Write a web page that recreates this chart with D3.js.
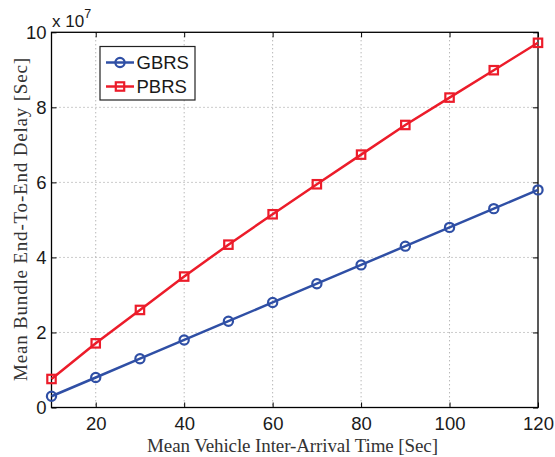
<!DOCTYPE html>
<html>
<head>
<meta charset="utf-8">
<script src="https://cdn.jsdelivr.net/npm/d3@7"></script>
<style>
  html, body { margin: 0; padding: 0; background: #fff; }
  svg { display: block; }
</style>
</head>
<body>
<svg id="chart" width="555" height="457"></svg>
<script>
// Mean vehicle inter-arrival time (s)
const arrivalTimes = [10, 20, 30, 40, 50, 60, 70, 80, 90, 100, 110, 120];
// Mean bundle end-to-end delay, in units of 1e7 s
const gbrsDelay = [0.30, 0.80, 1.30, 1.80, 2.30, 2.80, 3.30, 3.80, 4.30, 4.80, 5.30, 5.80];
const pbrsDelay = [0.76, 1.71, 2.60, 3.49, 4.34, 5.15, 5.95, 6.74, 7.53, 8.26, 8.99, 9.72];
const xTicks = [20, 40, 60, 80, 100, 120];
const yTicks = [0, 2, 4, 6, 8, 10];
const seriesNames = ["GBRS", "PBRS"];

const svg = d3.select("#chart");
const margin = { left: 51.5, top: 32.3, right: 538, bottom: 407.5 };

const x = d3.scaleLinear().domain([10, 120]).range([margin.left, margin.right]);
const y = d3.scaleLinear().domain([0, 10]).range([margin.bottom, margin.top]);

const sans = "'Liberation Sans', Arial, Helvetica, sans-serif";
const serif = "'Liberation Serif', 'Times New Roman', serif";

// dotted grid
const grid = svg.append("g").attr("stroke", "#999").attr("stroke-width", 1)
  .attr("stroke-dasharray", "1,3");
xTicks.forEach(t => {
  if (t === 120) return;
  grid.append("line").attr("x1", x(t)).attr("x2", x(t))
    .attr("y1", margin.top).attr("y2", margin.bottom);
});
yTicks.forEach(t => {
  if (t === 0 || t === 10) return;
  grid.append("line").attr("x1", margin.left).attr("x2", margin.right)
    .attr("y1", y(t)).attr("y2", y(t));
});

// axes: ticks point inward, box around the plot
const tickLen = 5;
const axisBottom = d3.axisBottom(x).tickValues(xTicks).tickSizeInner(-tickLen).tickSizeOuter(0).tickPadding(9);
const axisTop = d3.axisTop(x).tickValues(xTicks).tickSizeInner(-tickLen).tickSizeOuter(0).tickFormat("");
const axisLeft = d3.axisLeft(y).tickValues(yTicks).tickSizeInner(-tickLen).tickSizeOuter(0).tickPadding(5);
const axisRight = d3.axisRight(y).tickValues(yTicks).tickSizeInner(-tickLen).tickSizeOuter(0).tickFormat("");

function styleAxis(g) {
  g.select(".domain").remove();
  g.selectAll(".tick line").attr("stroke", "#000").attr("stroke-width", 1);
  g.selectAll(".tick text").attr("fill", "#1a1a1a")
    .style("font-family", sans).style("font-size", "18.5px");
}
svg.append("g").attr("transform", `translate(0,${margin.bottom})`).call(axisBottom).call(styleAxis);
svg.append("g").attr("transform", `translate(0,${margin.top})`).call(axisTop).call(styleAxis);
svg.append("g").attr("transform", `translate(${margin.left},0)`).call(axisLeft).call(styleAxis);
svg.append("g").attr("transform", `translate(${margin.right},0)`).call(axisRight).call(styleAxis);

svg.append("rect")
  .attr("x", margin.left).attr("y", margin.top)
  .attr("width", margin.right - margin.left).attr("height", margin.bottom - margin.top)
  .attr("fill", "none").attr("stroke", "#000").attr("stroke-width", 1.3);

// exponent label
const expo = svg.append("text").attr("x", 52).attr("y", 27)
  .style("font-family", sans).style("font-size", "17px").attr("fill", "#1a1a1a");
expo.append("tspan").text("x 10");
expo.append("tspan").attr("dy", -9).style("font-size", "12.5px").text("7");

// axis titles
svg.append("text").attr("x", 147).attr("y", 451.5)
  .attr("textLength", 291).attr("lengthAdjust", "spacing")
  .style("font-family", serif).style("font-size", "19px")
  .attr("fill", "#333").text("Mean Vehicle Inter-Arrival Time [Sec]");
svg.append("text").attr("transform", "translate(27,381) rotate(-90)")
  .attr("textLength", 323).attr("lengthAdjust", "spacing")
  .style("font-family", serif).style("font-size", "19px")
  .attr("fill", "#333").text("Mean Bundle End-To-End Delay [Sec]");

const colors = { GBRS: "#2f4fa5", PBRS: "#ec1c2a" };
const line = d3.line().x((d, i) => x(arrivalTimes[i])).y(d => y(d));

function circleMarker(g, cx, cy, color) {
  g.append("circle").attr("cx", cx).attr("cy", cy).attr("r", 4.6)
    .attr("fill", "none").attr("stroke", color).attr("stroke-width", 2.2);
}
function squareMarker(g, cx, cy, color) {
  g.append("rect").attr("x", cx - 4.2).attr("y", cy - 4.2).attr("width", 8.4).attr("height", 8.4)
    .attr("fill", "none").attr("stroke", color).attr("stroke-width", 2.2);
}

const series = [
  { name: "GBRS", values: gbrsDelay, marker: circleMarker },
  { name: "PBRS", values: pbrsDelay, marker: squareMarker }
];

series.forEach(s => {
  const g = svg.append("g");
  g.append("path").datum(s.values).attr("d", line)
    .attr("fill", "none").attr("stroke", colors[s.name]).attr("stroke-width", 2.5);
  s.values.forEach((v, i) => s.marker(g, x(arrivalTimes[i]), y(v), colors[s.name]));
});

// legend
const legend = svg.append("g");
legend.append("rect").attr("x", 100).attr("y", 46.5).attr("width", 95).attr("height", 53.5)
  .attr("fill", "#fff").attr("stroke", "#222").attr("stroke-width", 1.2);
series.forEach((s, i) => {
  const ly = 62.5 + i * 24;
  legend.append("line").attr("x1", 106).attr("x2", 134).attr("y1", ly).attr("y2", ly)
    .attr("stroke", colors[s.name]).attr("stroke-width", 2.5);
  s.marker(legend, 120, ly, colors[s.name]);
  legend.append("text").attr("x", 136.5).attr("y", ly + 6.8)
    .style("font-family", sans).style("font-size", "18.5px").attr("fill", "#1a1a1a")
    .text(seriesNames[i]);
});
</script>
</body>
</html>
